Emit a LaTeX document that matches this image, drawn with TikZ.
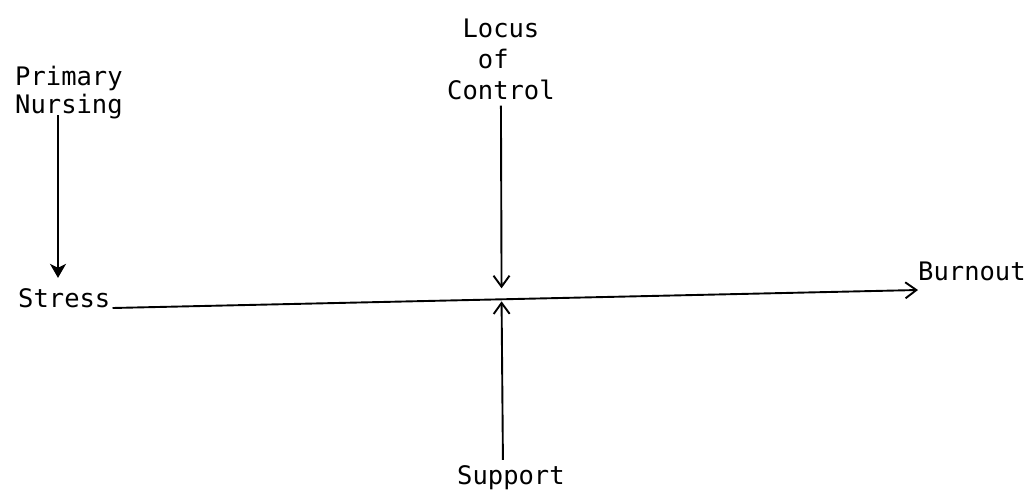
\documentclass[tikz,border=0pt]{standalone}
\usepackage{fontspec}
\newfontfamily\tw{DejaVu Sans Mono}
\usetikzlibrary{arrows.meta}
\begin{document}
\begin{tikzpicture}[x=1pt,y=-1pt,
  lbl/.style={font=\tw\fontsize{25.5}{28}\selectfont, inner sep=0pt},
  conn/.style={line width=1.9pt, -{Straight Barb[length=11pt,width=16pt,line width=1.9pt]}},
  fconn/.style={line width=1.9pt, -{Stealth[length=14pt,width=16pt,inset=4pt]}}]
\path[use as bounding box, fill=white] (0,0) rectangle (1031,491);
\node[lbl, align=left, anchor=north west] (pn) at (15,66) {Primary\\Nursing};
\node[lbl, anchor=base west] (st) at (18,307) {Stress};
\node[lbl, anchor=base west] (bo) at (918,280) {Burnout};
\node[lbl, align=left, anchor=north west, font=\tw\fontsize{25.5}{31}\selectfont] (lc) at (447,18) {\phantom{C}Locus\\\phantom{Co}of\\Control};
\node[lbl, anchor=base west] (su) at (457,484) {Support};
\draw[fconn] ([xshift=43pt,yshift=4pt]pn.south west) -- ([xshift=40pt,yshift=10pt]st.north west);
\draw[conn] ([xshift=2pt,yshift=-1pt]st.base east) -- ([yshift=-10pt]bo.base west)
  coordinate[pos=0.483] (m);
\draw[conn] ([yshift=-6pt]lc.south) -- ([yshift=11pt]m);
\draw[conn] ([xshift=-8pt,yshift=5pt]su.north) -- ([yshift=-2pt]m);
\end{tikzpicture}
\end{document}
